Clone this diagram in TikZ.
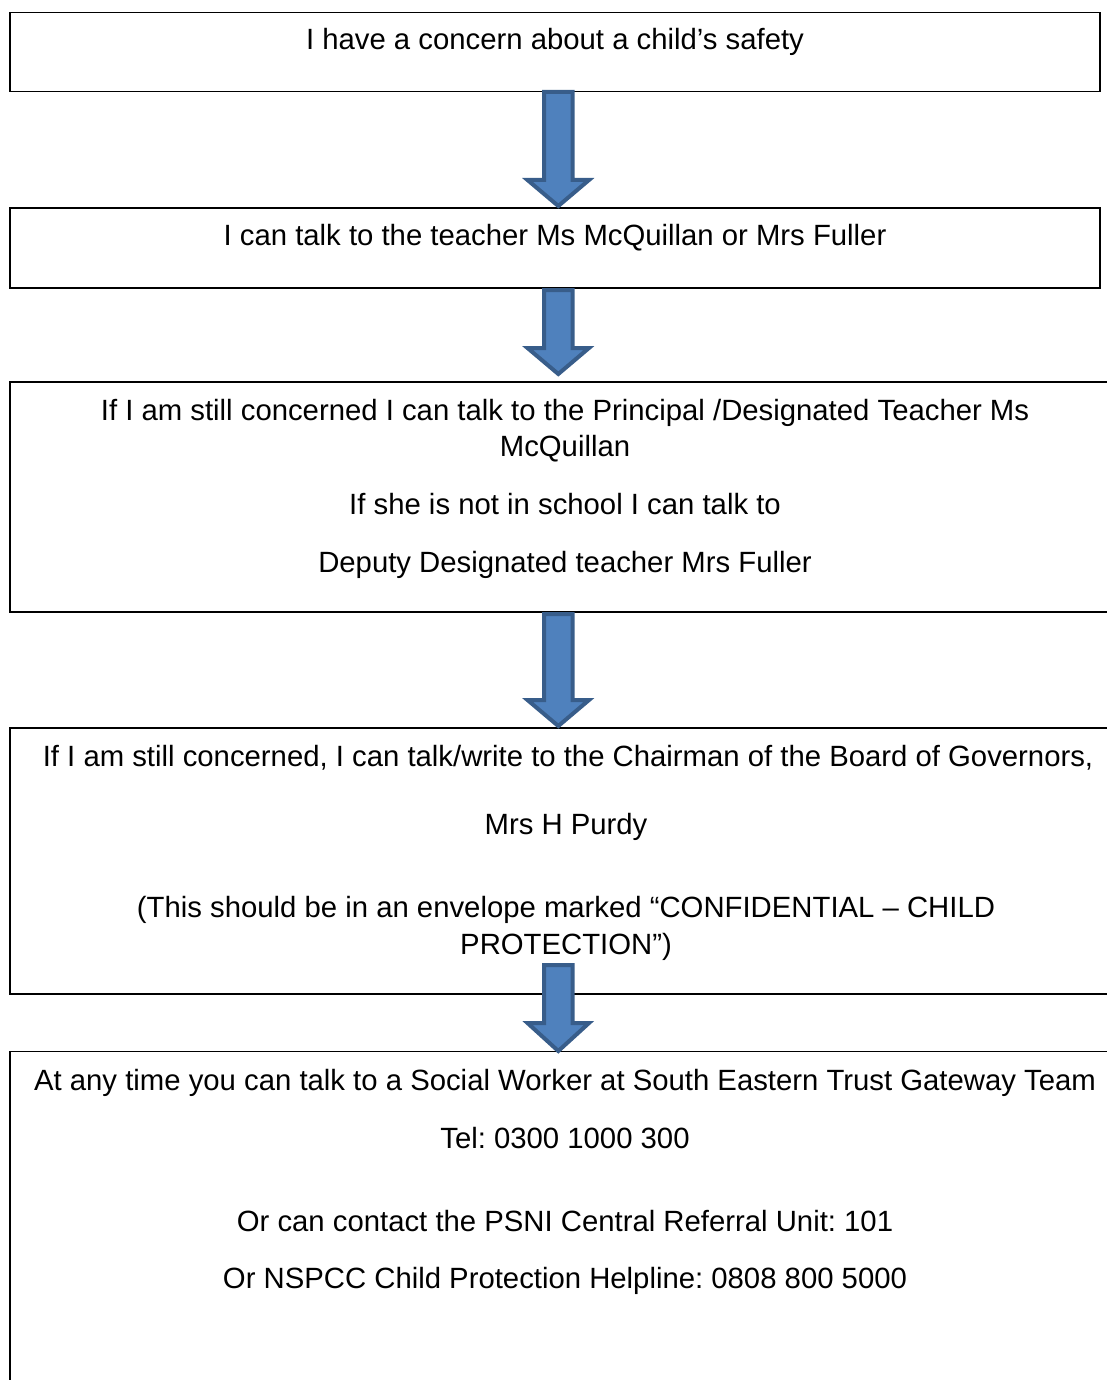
\documentclass[tikz,border=0pt]{standalone}
\usepackage{fontspec}
\setmainfont{Liberation Sans}
\frenchspacing
\begin{document}
\begin{tikzpicture}[x=1pt,y=-1pt,
  box/.style={draw=black,line width=1.9pt,inner sep=0pt,outer sep=0pt,anchor=north west},
  txt/.style={anchor=base,inner sep=0pt,font=\fontsize{29.3}{33.7}\selectfont},
  blockarrow/.style={draw={rgb,255:red,56;green,93;blue,138},fill={rgb,255:red,79;green,129;blue,189},line width=4pt,line join=miter}]
\useasboundingbox (0,0) rectangle (1107,1380);
\clip (0,0) rectangle (1107,1380);
% boxes
\node[box,minimum width=1090pt,minimum height=79pt] (b1) at (10,12.5) {};
\node[box,minimum width=1090pt,minimum height=80pt] (b2) at (10,208) {};
\node[box,minimum width=1112pt,minimum height=230pt] (b3) at (10,382) {};
\node[box,minimum width=1116pt,minimum height=266pt] (b4) at (10,728) {};
\node[box,minimum width=1110pt,minimum height=400pt] (b5) at (10,1051.5) {};
% texts
\node[txt] (t1) at (555,50) {I have a concern about a child’s safety};
\node[txt] (t2) at (555,246) {I can talk to the teacher Ms McQuillan or Mrs Fuller};
\node[txt] (t3a) at (565,420) {If I am still concerned I can talk to the Principal /Designated Teacher Ms};
\node[txt] (t3b) at (565,456) {McQuillan};
\node[txt] (t3c) at (565,514) {If she is not in school I can talk to};
\node[txt] (t3d) at (565,572) {Deputy Designated teacher Mrs Fuller};
\node[txt] (t4a) at (568,766) {If I am still concerned, I can talk/write to the Chairman of the Board of Governors,};
\node[txt] (t4b) at (566,834) {Mrs H Purdy};
\node[txt] (t4c) at (566,917) {(This should be in an envelope marked “CONFIDENTIAL – CHILD};
\node[txt] (t4d) at (566,954) {PROTECTION”)};
\node[txt] (t5a) at (565,1090) {At any time you can talk to a Social Worker at South Eastern Trust Gateway Team};
\node[txt] (t5b) at (565,1148) {Tel: 0300 1000 300};
\node[txt] (t5c) at (565,1231) {Or can contact the PSNI Central Referral Unit: 101};
\node[txt] (t5d) at (565,1288) {Or NSPCC Child Protection Helpline: 0808 800 5000};
% block arrows
\newcommand{\myblockarrow}[3]{%
  \draw[blockarrow] (544,#1) -- (572.5,#1) -- (572.5,#2) -- (589,#2) -- (558.3,#3) -- (527.5,#2) -- (544,#2) -- cycle;}
\myblockarrow{92}{180}{206}
\myblockarrow{290}{348}{374}
\myblockarrow{614}{700}{726}
\myblockarrow{965}{1023}{1051}
\end{tikzpicture}
\end{document}
